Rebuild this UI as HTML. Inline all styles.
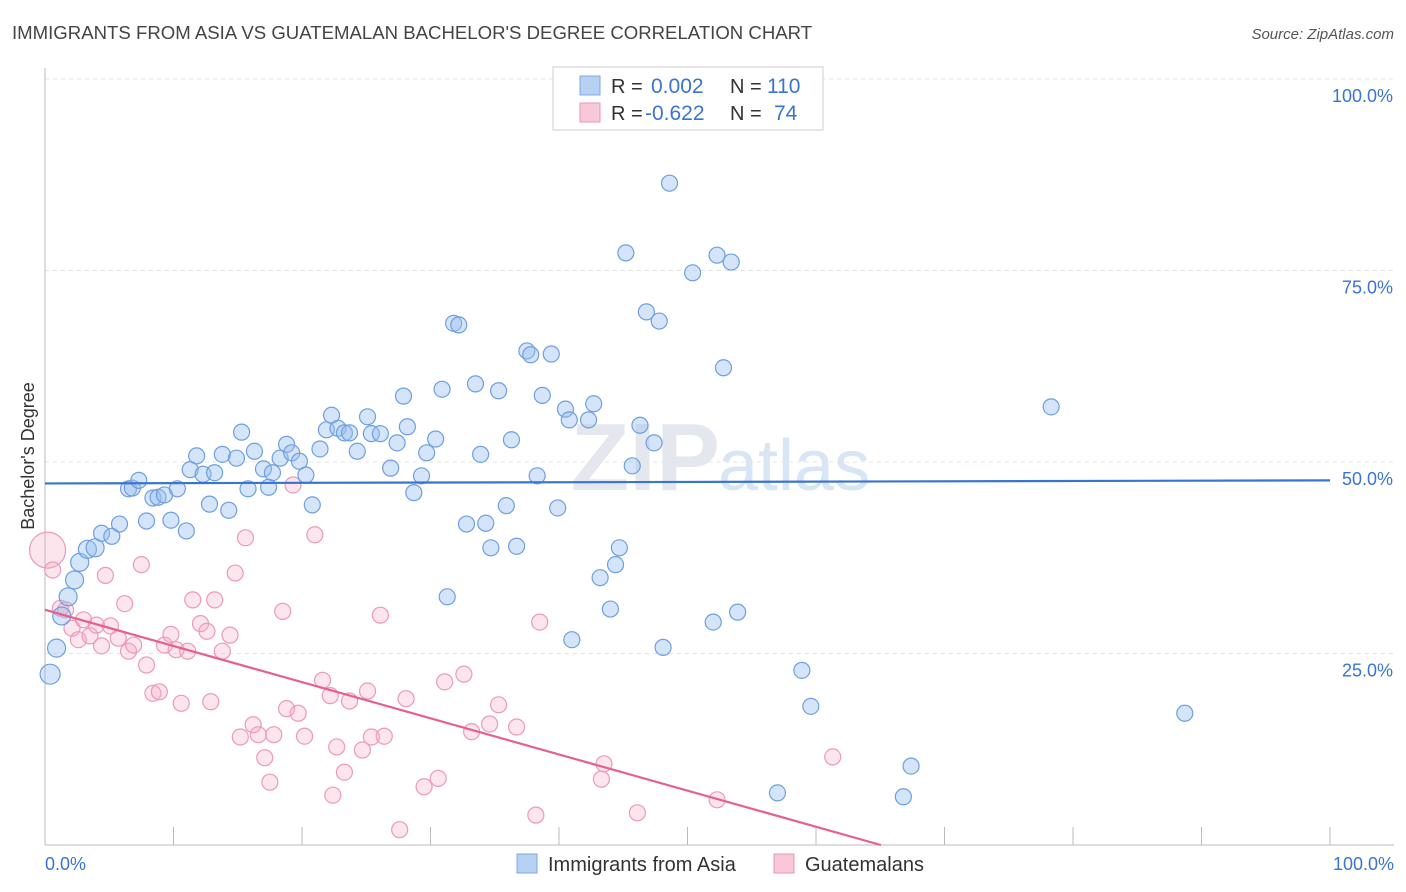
<!DOCTYPE html>
<html><head><meta charset="utf-8">
<style>
body{margin:0;background:#fff;font-family:"Liberation Sans",sans-serif;}
#wrap{position:relative;width:1406px;height:892px;overflow:hidden;}
svg text{font-family:"Liberation Sans",sans-serif;}
</style></head>
<body>
<div id="wrap">
<svg id="chart" width="1406" height="892">
  <text x="12" y="39" font-size="18.6" fill="#444">IMMIGRANTS FROM ASIA VS GUATEMALAN BACHELOR'S DEGREE CORRELATION CHART</text>
  <text x="1394" y="39" font-size="15" fill="#555" font-style="italic" text-anchor="end">Source: ZipAtlas.com</text>
  <text x="720" y="490" font-size="96" fill="#e4e8ee" text-anchor="end" font-family="Liberation Serif" font-weight="bold">ZIP</text>
  <text x="718" y="490" font-size="72" fill="#d8e5f5">atlas</text>
  <text transform="translate(34,456) rotate(-90)" font-size="18" fill="#333" text-anchor="middle">Bachelor's Degree</text>
  <g id="grid"></g>
  <g id="marks"></g>
  <g>
    <rect x="553" y="67" width="270" height="63" fill="#fff" stroke="#ccc"/>
    <rect x="580" y="76" width="20" height="19" fill="#b7d1f3" stroke="#7fa8e0"/>
    <rect x="580" y="103" width="20" height="19" fill="#f8c8d6" stroke="#e896b0"/>
    <text x="611" y="93" font-size="20" fill="#333">R = </text><text x="651" y="93" font-size="21" fill="#3a74d0">0.002</text>
    <text x="730" y="93" font-size="20" fill="#333">N = </text><text x="767" y="93" font-size="21" fill="#3a74d0">110</text>
    <text x="611" y="120" font-size="20" fill="#333">R = </text><text x="645" y="120" font-size="21" fill="#3a74d0">-0.622</text>
    <text x="730" y="120" font-size="20" fill="#333">N = </text><text x="774" y="120" font-size="21" fill="#3a74d0">74</text>
  </g>
  <g>
    <rect x="517" y="854" width="20" height="19" fill="#b7d1f3" stroke="#7fa8e0"/>
    <text x="548" y="871" font-size="20" fill="#333">Immigrants from Asia</text>
    <rect x="774" y="854" width="20" height="19" fill="#f8c8d6" stroke="#e896b0"/>
    <text x="805" y="871" font-size="20" fill="#333">Guatemalans</text>
  </g>
</svg>
</div>
<script>
const yTicks=[25,50,75,100];
const yTickLabels=["25.0%","50.0%","75.0%","100.0%"];
const xTicks=[0,10,20,30,40,50,60,70,80,90,100];
const xEndLabels=["0.0%","100.0%"];
const asiaX=[0.4,0.9,1.3,1.8,2.3,2.7,3.3,3.9,4.4,5.2,5.8,6.5,6.8,7.3,7.9,8.4,8.8,9.3,9.8,10.3,11.0,11.3,11.8,12.3,12.8,13.2,13.8,14.3,14.9,15.3,15.8,16.3,17.0,17.4,17.7,18.3,18.8,19.2,19.8,20.3,20.8,21.4,21.9,22.3,22.8,23.3,23.7,24.3,25.1,25.4,26.1,26.9,27.4,27.9,28.2,28.7,29.3,29.7,30.4,30.9,31.3,31.8,32.2,32.8,33.5,33.9,34.3,34.7,35.3,35.9,36.3,36.7,37.5,37.8,38.3,38.7,39.4,39.9,40.5,40.8,42.3,42.7,41.0,43.2,44.0,44.4,44.7,45.2,45.7,46.3,46.8,47.4,47.8,48.1,48.6,50.4,52.0,52.3,52.8,53.4,53.9,57.0,58.9,59.6,66.8,67.4,78.3,88.7];
const asiaY=[22.3,25.7,29.9,32.4,34.6,36.9,38.6,38.8,40.7,40.3,41.9,46.5,46.6,47.6,42.3,45.3,45.4,45.7,42.4,46.5,41.0,49.0,50.8,48.4,44.5,48.6,51.0,43.7,50.5,53.9,46.5,51.4,49.1,46.7,48.6,50.5,52.3,51.2,50.1,48.3,44.4,51.7,54.2,56.1,54.4,53.8,53.8,51.4,55.9,53.7,53.7,49.2,52.5,58.6,54.6,46.0,48.2,51.2,53.0,59.5,32.4,68.1,67.9,41.9,60.2,51.0,42.0,38.8,59.3,44.3,52.9,39.0,64.5,64.0,48.2,58.7,64.1,44.0,56.9,55.5,55.5,57.6,26.8,34.9,30.8,36.6,38.8,77.3,49.5,54.8,69.6,52.5,68.4,25.8,86.4,74.7,29.1,77.0,62.3,76.1,30.4,6.8,22.8,18.1,6.3,10.3,57.2,17.2];
const guatX=[0.2,0.6,1.2,1.6,2.1,2.6,3.0,3.5,4.0,4.4,4.7,5.1,5.7,6.2,6.5,6.9,7.5,7.9,8.4,8.9,9.3,9.8,10.2,10.6,11.1,11.5,12.1,12.6,12.9,13.2,13.8,14.4,14.8,15.2,15.6,16.2,16.6,17.1,17.5,17.8,18.5,18.8,19.3,19.7,20.2,21.0,21.6,22.2,22.4,22.7,23.3,23.7,24.7,25.1,25.4,26.1,26.4,27.6,28.1,29.5,30.6,31.1,32.6,33.2,34.6,35.3,36.7,38.2,38.5,43.3,43.5,46.1,52.3,61.3];
const guatY=[38.5,35.9,30.9,30.7,28.3,26.8,29.4,27.3,28.7,26.0,35.2,28.6,27.0,31.5,25.3,26.1,36.6,23.5,19.8,20.0,26.1,27.5,25.5,18.5,25.3,32.0,28.9,27.9,18.7,32.0,25.3,27.4,35.5,14.1,40.1,15.7,14.4,11.4,8.2,14.4,30.5,17.8,47.0,17.2,14.2,40.5,21.5,19.5,6.5,12.8,9.5,18.8,12.4,20.1,14.1,30.0,14.2,2.0,19.1,7.6,8.7,21.3,22.3,14.8,15.8,18.3,15.4,3.9,29.1,8.6,10.6,4.2,5.9,11.5];
const asiaTrend=[47.2,0.004];
const guatTrend=[30.7,-0.472];

const X=v=>45+v*12.85, Y=v=>845-v*7.66;
const NS="http://www.w3.org/2000/svg";
const grid=document.getElementById('grid'), marks=document.getElementById('marks');
function mk(tag,attrs,parent){const e=document.createElementNS(NS,tag);for(const k in attrs)e.setAttribute(k,attrs[k]);parent.appendChild(e);return e;}
yTicks.forEach((t,i)=>{
  const l=mk('line',{x1:45,x2:1394,y1:Y(t),y2:Y(t),stroke:'#e4e4e4','stroke-dasharray':'4,4'},grid);
  
  
  const tx=mk('text',{x:1393,y:Y(t)+23,'font-size':18,fill:'#3a74d0','text-anchor':'end'},grid);
  tx.textContent=yTickLabels[i];
  
  
});
const ax=mk('line',{x1:45,x2:45,y1:68,y2:845,stroke:'#bbb'},grid);


const bx=mk('line',{x1:45,x2:1394,y1:845,y2:845,stroke:'#bbb'},grid);


xTicks.forEach(t=>{
  const l=mk('line',{x1:X(t),x2:X(t),y1:827,y2:845,stroke:'#bbb'},grid);
  
  
});
[[0,'start',45],[100,'end',1394]].forEach((d,i)=>{
  const tx=mk('text',{x:d[2],y:870,'font-size':18,fill:'#3a74d0','text-anchor':d[1]},grid);
  tx.textContent=xEndLabels[i];
  
  
});
guatX.forEach((x,i)=>{
  const c=mk('circle',{cx:X(x),cy:Y(guatY[i]),r:i===0?18:8,fill:'rgba(245,170,195,0.3)',stroke:'#ec9ab5','stroke-width':1.2},marks);
  
  
});
asiaX.forEach((x,i)=>{
  const c=mk('circle',{cx:X(x),cy:Y(asiaY[i]),r:i===0?10:(i<8?9:8),fill:'rgba(150,190,240,0.4)',stroke:'#6d9fe0','stroke-width':1.2},marks);
  
  
});
const bl=mk('line',{x1:X(0),y1:Y(asiaTrend[0]),x2:X(100),y2:Y(asiaTrend[0]+asiaTrend[1]*100),stroke:'#3a74d0','stroke-width':2.2},marks);


const xEnd=-guatTrend[0]/guatTrend[1];
const pl=mk('line',{x1:X(0),y1:Y(guatTrend[0]),x2:X(xEnd),y2:Y(0),stroke:'#e5608a','stroke-width':2.2},marks);


</script>
</body></html>
